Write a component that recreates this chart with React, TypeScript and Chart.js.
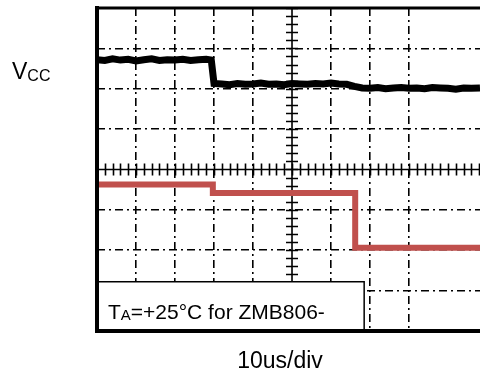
import React, { useEffect, useRef } from 'react';
import { Chart, registerables } from 'chart.js';

Chart.register(...registerables);

// Horizontal time divisions visible (screen cut at the right) and vertical divisions
const X_MIN = 0;
const X_MAX = 9.82;
const Y_MIN = -4;
const Y_MAX = 4;

// VCC trace (black), in divisions
const blackX = [
  0, 0.2, 0.4, 0.6, 0.8, 1.0, 1.2, 1.4, 1.6, 1.8, 2.0, 2.2, 2.4, 2.6, 2.8, 2.93,
  3.0, 3.2, 3.4, 3.6, 3.8, 4.0, 4.2, 4.4, 4.6, 4.8, 5.0, 5.2, 5.4, 5.6, 5.8, 6.0, 6.2, 6.4,
  6.6, 6.8, 7.0, 7.2, 7.4, 7.6, 7.8, 8.0, 8.2, 8.4, 8.6, 8.8, 9.0, 9.2, 9.4, 9.6, 9.82,
];
const blackY = [
  2.72, 2.7, 2.74, 2.71, 2.73, 2.69, 2.72, 2.74, 2.7, 2.72, 2.71, 2.73, 2.7, 2.72, 2.73, 2.71,
  2.13, 2.12, 2.1, 2.13, 2.11, 2.12, 2.14, 2.11, 2.12, 2.1, 2.13, 2.12, 2.11, 2.13, 2.12, 2.14, 2.12, 2.11,
  2.06, 2.02, 2.01, 2.03, 2.0, 2.02, 2.03, 2.01, 2.02, 2.0, 2.03, 2.02, 2.01, 1.99, 2.02, 2.01, 2.02,
];

// Output trace (red), in divisions
const redX = [0, 2.97, 2.97, 6.62, 6.62, 9.82];
const redY = [-0.37, -0.37, -0.58, -0.58, -1.94, -1.94];

// Annotation box extent (divisions)
const boxRightX = 6.85;
const boxTopY = -2.78;

const channelLabel = 'V';
const channelSub = 'CC';
const timebaseLabel = '10us/div';
const noteMain = 'T';
const noteSub = 'A';
const noteRest = '=+25°C for ZMB806-';

const FONT = '"Liberation Sans", Arial, sans-serif';

export default function App() {
  const ref = useRef<HTMLCanvasElement>(null);

  useEffect(() => {
    const canvas = ref.current;
    if (!canvas) return;

    const scopePlugin = {
      id: 'scope',
      beforeDatasetsDraw(chart: any) {
        const { ctx, chartArea } = chart;
        const xs = chart.scales.x;
        const ys = chart.scales.y;
        const cx = xs.getPixelForValue(5);
        const cy = ys.getPixelForValue(0);
        ctx.save();
        ctx.strokeStyle = '#000';
        ctx.lineWidth = 1.6;
        ctx.beginPath();
        ctx.moveTo(chartArea.left, cy);
        ctx.lineTo(chartArea.right, cy);
        ctx.moveTo(cx, chartArea.top);
        ctx.lineTo(cx, chartArea.bottom);
        ctx.stroke();
        ctx.lineWidth = 1.6;
        ctx.beginPath();
        for (let v = X_MIN; v <= X_MAX + 1e-6; v += 0.2) {
          const px = Math.round(xs.getPixelForValue(v)) + 0.5;
          ctx.moveTo(px, cy - 6);
          ctx.lineTo(px, cy + 6);
        }
        for (let v = Y_MIN; v <= Y_MAX + 1e-6; v += 0.2) {
          const py = Math.round(ys.getPixelForValue(v)) + 0.5;
          ctx.moveTo(cx - 6, py);
          ctx.lineTo(cx + 6, py);
        }
        ctx.stroke();
        ctx.restore();
      },
      afterDatasetsDraw(chart: any) {
        const { ctx, chartArea } = chart;
        const xs = chart.scales.x;
        const ys = chart.scales.y;
        ctx.save();
        // annotation box
        const bx0 = chartArea.left;
        const bx1 = xs.getPixelForValue(boxRightX);
        const by0 = ys.getPixelForValue(boxTopY);
        const by1 = chartArea.bottom;
        ctx.fillStyle = '#fff';
        ctx.fillRect(bx0, by0, bx1 - bx0, by1 - by0);
        ctx.strokeStyle = '#000';
        ctx.lineWidth = 1.5;
        ctx.strokeRect(bx0, by0, bx1 - bx0, by1 - by0);
        // frame
        ctx.lineCap = 'square';
        ctx.lineWidth = 4;
        ctx.beginPath();
        ctx.moveTo(chartArea.left, chartArea.bottom);
        ctx.lineTo(chartArea.right + 4, chartArea.bottom);
        ctx.moveTo(chartArea.left, chartArea.top);
        ctx.lineTo(chartArea.left, chartArea.bottom);
        ctx.stroke();
        ctx.lineWidth = 3;
        ctx.beginPath();
        ctx.moveTo(chartArea.left, chartArea.top);
        ctx.lineTo(chartArea.right + 4, chartArea.top);
        ctx.stroke();

        // texts
        ctx.fillStyle = '#000';
        ctx.textBaseline = 'alphabetic';
        ctx.textAlign = 'left';
        // note inside the box
        let tx = bx0 + 11;
        const tb = by1 - 12;
        ctx.font = `21px ${FONT}`;
        ctx.fillText(noteMain, tx, tb);
        tx += ctx.measureText(noteMain).width;
        ctx.font = `15px ${FONT}`;
        ctx.fillText(noteSub, tx, tb + 1);
        tx += ctx.measureText(noteSub).width;
        ctx.font = `21px ${FONT}`;
        ctx.fillText(noteRest, tx, tb);

        // channel label
        ctx.font = `23px ${FONT}`;
        ctx.fillText(channelLabel, 12, 79);
        const vw = ctx.measureText(channelLabel).width;
        ctx.font = `16px ${FONT}`;
        ctx.fillText(channelSub, 12 + vw, 81);

        // time base
        ctx.font = `23px ${FONT}`;
        ctx.textAlign = 'center';
        ctx.fillText(timebaseLabel, 280, 368);
        ctx.restore();
      },
    };

    const dash = [8, 4, 2, 4];

    const chart = new Chart(canvas, {
      type: 'line',
      data: {
        datasets: [
          {
            label: 'VCC',
            data: blackX.map((x, i) => ({ x, y: blackY[i] })),
            borderColor: '#000',
            borderWidth: 7,
            pointRadius: 0,
            tension: 0,
            fill: false,
          },
          {
            label: 'Output',
            data: redX.map((x, i) => ({ x, y: redY[i] })),
            borderColor: '#c0504d',
            borderWidth: 6,
            borderJoinStyle: 'miter',
            pointRadius: 0,
            tension: 0,
            fill: false,
          },
        ],
      },
      options: {
        animation: false,
        responsive: false,
        maintainAspectRatio: false,
        layout: { padding: { left: 97, top: 8, right: 0, bottom: 40 } },
        plugins: { legend: { display: false }, tooltip: { enabled: false } },
        scales: {
          x: {
            type: 'linear',
            min: X_MIN,
            max: X_MAX,
            ticks: { display: false, stepSize: 1 },
            grid: {
              drawTicks: false,
              lineWidth: 1.6,
              color: (c: any) => {
                const v = c.tick?.value;
                if (v === undefined) return 'rgba(0,0,0,0)';
                if (Math.abs(v - Math.round(v)) > 1e-6 || v === 0 || v === 5) return 'rgba(0,0,0,0)';
                return '#000';
              },
            },
            border: { display: false, dash },
          },
          y: {
            type: 'linear',
            min: Y_MIN,
            max: Y_MAX,
            ticks: { display: false, stepSize: 1 },
            grid: {
              drawTicks: false,
              lineWidth: 1.6,
              color: (c: any) => {
                const v = c.tick?.value;
                if (v === undefined) return 'rgba(0,0,0,0)';
                if (v === 0 || v === 4 || v === -4) return 'rgba(0,0,0,0)';
                return '#000';
              },
            },
            border: { display: false, dash },
          },
        },
      },
      plugins: [scopePlugin],
    });

    return () => chart.destroy();
  }, []);

  return (
    <div style={{ position: 'fixed', left: 0, top: 0, width: 480, height: 371, background: '#fff', overflow: 'hidden' }}>
      <canvas ref={ref} width={480} height={371} style={{ display: 'block', width: 480, height: 371 }} />
    </div>
  );
}
